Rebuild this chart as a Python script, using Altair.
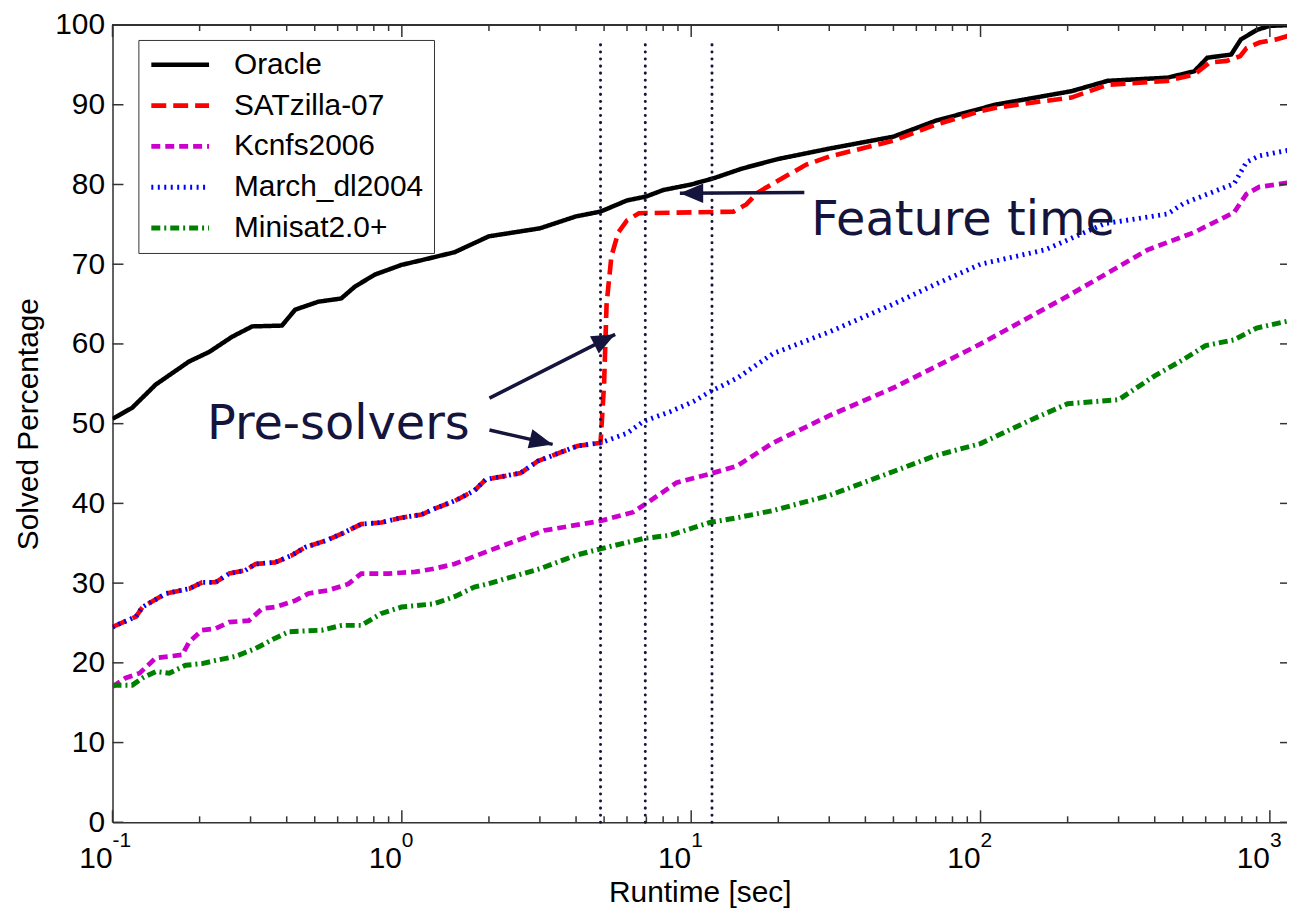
import altair as alt
import pandas as pd

FONT = "Liberation Sans"
ANN_FONT = "DejaVu Sans"
NAVY = "#14143c"
AXC = "#333333"

series_names = ["Oracle", "SATzilla-07", "Kcnfs2006", "March_dl2004", "Minisat2.0+"]
colors = ["#000000", "#ff0000", "#cc00cc", "#0000ff", "#008000"]
dashes = [[1, 0], [15, 7], [9, 5], [2, 4.5], [9, 4, 2, 4]]
widths = [4.5, 5, 1.6, 2.5, 1.6]

oracle_x = [0.1, 0.117, 0.141, 0.184, 0.216, 0.259, 0.304, 0.385, 0.428, 0.515, 0.617, 0.689, 0.807,
            0.995, 1.2, 1.52, 2.0, 3.0, 4.0, 4.86, 6.0, 7.0, 8.0, 10.0, 12.0, 15.0, 20.0, 30.0, 50.0,
            70.0, 100, 112, 206, 275, 443, 548, 608, 735, 794, 903, 1000, 1200]
oracle_y = [50.6, 52.0, 54.9, 57.8, 59.0, 60.9, 62.2, 62.3, 64.3, 65.3, 65.7, 67.2, 68.7,
            69.9, 70.6, 71.5, 73.5, 74.5, 76.0, 76.6, 78.0, 78.5, 79.3, 80.0, 80.8, 82.0, 83.2, 84.5, 86.0,
            88.0, 89.5, 90.0, 91.7, 93.0, 93.4, 94.2, 95.9, 96.3, 98.2, 99.4, 99.9, 100]

satzilla_x = [0.1, 0.1206, 0.127, 0.153, 0.184, 0.204, 0.227, 0.253, 0.288, 0.312, 0.365, 0.417, 0.464,
              0.543, 0.62, 0.724, 0.85, 0.997, 1.17, 1.29, 1.52, 1.78, 1.95, 2.57, 2.95, 4.04, 4.86, 5.0,
              5.1, 5.3, 5.6, 6.0, 6.6, 10, 14, 15.5, 17, 20, 25, 30, 50, 70, 100, 112, 146, 206, 275,
              443, 548, 620, 710, 790, 830, 920, 1050, 1200]
satzilla_y = [24.5, 25.8, 27.0, 28.7, 29.3, 30.1, 30.1, 31.2, 31.6, 32.4, 32.6, 33.5, 34.5,
              35.3, 36.2, 37.4, 37.6, 38.2, 38.6, 39.3, 40.3, 41.6, 43.0, 43.8, 45.3, 47.2, 47.6, 55,
              65, 71, 74, 75.5, 76.4, 76.5, 76.6, 77.5, 79, 80.5, 82.5, 83.5, 85.5, 87.5, 89.2, 89.6, 90.2, 90.9, 92.5,
              93.0, 93.8, 95.3, 95.5, 96.1, 97.1, 97.8, 98.2, 98.8]

kcnfs_x = [0.1, 0.111, 0.124, 0.141, 0.174, 0.184, 0.204, 0.227, 0.253, 0.296, 0.329, 0.365, 0.428, 0.476,
           0.557, 0.653, 0.724, 0.897, 1.11, 1.29, 1.52, 1.98, 3.1, 4.86, 6.3, 7.2, 8.9, 11.6, 14.4, 19.2,
           30, 50, 100, 200, 378, 548, 752, 830, 920, 1200]
kcnfs_y = [17.0, 18.1, 18.7, 20.6, 21.0, 22.6, 24.1, 24.3, 25.1, 25.3, 26.8, 27.0, 27.8, 28.7,
           29.1, 29.9, 31.2, 31.2, 31.4, 31.8, 32.4, 34.0, 36.6, 37.8, 38.9, 40.3, 42.6, 43.7, 44.7, 47.6,
           51, 54.5, 60, 66, 71.8, 74.0, 76.5, 78.8, 79.7, 80.3]

march_x = [0.1, 0.1206, 0.127, 0.153, 0.184, 0.204, 0.227, 0.253, 0.288, 0.312, 0.365, 0.417, 0.464,
           0.543, 0.62, 0.724, 0.85, 0.997, 1.17, 1.29, 1.52, 1.78, 1.95, 2.57, 2.95, 4.04, 4.86,
           6.0, 6.85, 8.45, 10.2, 11.6, 14.4, 19.2, 30, 50, 70, 100, 167, 269, 443, 502, 752, 830, 920, 1200]
march_y = [24.5, 25.8, 27.0, 28.7, 29.3, 30.1, 30.1, 31.2, 31.6, 32.4, 32.6, 33.5, 34.5,
           35.3, 36.2, 37.4, 37.6, 38.2, 38.6, 39.3, 40.3, 41.6, 43.0, 43.8, 45.3, 47.2, 47.6,
           48.8, 50.3, 51.5, 52.8, 54.0, 55.7, 58.8, 61.5, 65, 67.5, 70, 71.8, 75.1, 76.3, 77.6, 80.1, 82.8, 83.6, 84.4]

minisat_x = [0.1, 0.117, 0.127, 0.141, 0.157, 0.179, 0.204, 0.227, 0.266, 0.312, 0.365, 0.407, 0.529, 0.62,
             0.724, 0.85, 0.997, 1.29, 1.52, 1.78, 1.98, 3.0, 4.0, 4.86, 6.85, 8.45, 11.6, 14.4, 19.2, 30,
             50, 70, 100, 150, 200, 300, 400, 500, 600, 750, 900, 1200]
minisat_y = [17.2, 17.2, 18.1, 18.9, 18.7, 19.7, 19.9, 20.3, 20.8, 21.8, 23.1, 23.9, 24.1, 24.7,
             24.7, 26.2, 27.0, 27.4, 28.3, 29.5, 29.9, 31.8, 33.5, 34.3, 35.6, 36.0, 37.6, 38.2, 39.1, 41,
             44, 46, 47.5, 50.5, 52.5, 53, 56, 58, 59.8, 60.5, 62, 63]

# dotted marker lines (seconds)
marker_times = [4.86, 6.94, 11.8]
marker_bottom = [0, 0, 0]
marker_top = [98.1, 98.1, 98.1]

# annotations
ann_text = ["Pre-solvers", "Feature time"]
ann_x = [0.212, 26.0]
ann_y = [48.1, 73.7]

arrow_x_from = [2.008, 2.008, 24.6]
arrow_y_from = [53.2, 49.2, 79.0]
arrow_x_to = [5.46, 3.32, 9.14]
arrow_y_to = [61.2, 47.4, 78.9]
arrow_angle = [63, 104, 270]

# axis ticks
y_ticks = [0, 10, 20, 30, 40, 50, 60, 70, 80, 90, 100]
x_exponents = [-1, 0, 1, 2, 3]
x_minor = [m * 10.0 ** e for e in [-1, 0, 1, 2] for m in range(2, 10)]
x_max = 1146

W, H = 1180, 801

frames = []
for name, xs, ys in zip(series_names,
                        [oracle_x, satzilla_x, kcnfs_x, march_x, minisat_x],
                        [oracle_y, satzilla_y, kcnfs_y, march_y, minisat_y]):
    frames.append(pd.DataFrame({"series": name, "runtime": xs, "solved": ys, "idx": range(len(xs))}))
curves = pd.concat(frames, ignore_index=True)

xsc = alt.Scale(type="log", domain=[0.1, x_max], nice=False)
ysc = alt.Scale(domain=[0, 100], nice=False)

legend = alt.Legend(
    title=None, orient="none", legendX=26, legendY=15, direction="vertical",
    symbolType="M-2.9,0L2.9,0", symbolSize=400, symbolOffset=17, labelOffset=39,
    rowPadding=11, padding=10, labelFontSize=30, labelFont=FONT, labelColor="#000",
    strokeColor=AXC, fillColor="#ffffff", labelLimit=500,
)

TITLE_FS = 30
x_axis = alt.Axis(labels=False, ticks=False, grid=False, domain=True, domainColor=AXC, domainWidth=1.5,
                  title="Runtime [sec]", titleFont=FONT, titleFontSize=TITLE_FS, titleFontWeight="normal",
                  titleColor="#000", titleY=80, titleBaseline="alphabetic")
y_axis = alt.Axis(values=y_ticks, labelFontSize=30, labelFont=FONT, labelColor="#000", labelPadding=8,
                  labelFlush=False, labelOverlap=False, ticks=False, grid=False, domainColor=AXC,
                  domainWidth=1.5, title="Solved Percentage", titleFont=FONT, titleFontSize=TITLE_FS,
                  titleFontWeight="normal", titleColor="#000", titleX=-84, titleY=H / 2, titleAngle=-90,
                  titleBaseline="middle", titleAlign="center")


def X(field):
    return alt.X(field, type="quantitative", scale=xsc, axis=x_axis)


def Y(field):
    return alt.Y(field, type="quantitative", scale=ysc, axis=y_axis)


enc = dict(
    x=X("runtime"),
    y=Y("solved"),
    color=alt.Color("series:N", scale=alt.Scale(domain=series_names, range=colors), legend=legend),
    strokeDash=alt.StrokeDash("series:N", scale=alt.Scale(domain=series_names, range=dashes), legend=legend),
    strokeWidth=alt.StrokeWidth("series:N", scale=alt.Scale(domain=series_names, range=widths), legend=legend),
    order="idx:Q",
)

layers = []
for n in series_names:
    layers.append(alt.Chart(curves).transform_filter(alt.datum.series == n)
                  .mark_line(clip=True).encode(**enc))

# frame ticks (MATLAB style, inward)
xmaj = pd.DataFrame({"v": [10.0 ** e for e in x_exponents]})
xmin = pd.DataFrame({"v": x_minor})
ytk = pd.DataFrame({"v": y_ticks})
tick_style = dict(color=AXC, strokeWidth=1.5)
ticks = [
    alt.Chart(xmaj).mark_rule(**tick_style).encode(x=X("v"), y=alt.value(H), y2=alt.value(H - 12)),
    alt.Chart(xmaj).mark_rule(**tick_style).encode(x=X("v"), y=alt.value(0), y2=alt.value(12)),
    alt.Chart(xmin).mark_rule(**tick_style).encode(x=X("v"), y=alt.value(H), y2=alt.value(H - 6)),
    alt.Chart(xmin).mark_rule(**tick_style).encode(x=X("v"), y=alt.value(0), y2=alt.value(6)),
    alt.Chart(ytk).mark_rule(**tick_style).encode(y=Y("v"), x=alt.value(0), x2=alt.value(11)),
    alt.Chart(ytk).mark_rule(**tick_style).encode(y=Y("v"), x=alt.value(W - 7), x2=alt.value(W)),
    alt.Chart(ytk).mark_rule(**tick_style).encode(x=alt.value(0), x2=alt.value(W), y=alt.value(0)),
]

# x tick labels as 10 with superscript exponent
lab = pd.DataFrame({"v": [10.0 ** e for e in x_exponents], "exp": [str(e) for e in x_exponents]})
BASE_FS, EXP_FS = 30, 21
lab["expw"] = lab["exp"].apply(lambda s: EXP_FS * sum(0.333 if c == "-" else 0.556 for c in s))
lab["tot"] = 2 * 0.556 * BASE_FS + 1.5 + lab["expw"]
lab["dx10"] = -lab["tot"] / 2 + 2 * 0.556 * BASE_FS
lab["dxe"] = lab["dx10"] + 1.5
lab["ten"] = "10"
labels_ten = alt.Chart(lab).mark_text(font=FONT, fontSize=BASE_FS, align="right", baseline="alphabetic",
                                      color="#000").encode(
    x=X("v"), y=alt.value(H + 46), text="ten:N", xOffset=alt.XOffset("dx10:Q", scale=None))
labels_exp = alt.Chart(lab).mark_text(font=FONT, fontSize=EXP_FS, align="left", baseline="alphabetic",
                                      color="#000").encode(
    x=X("v"), y=alt.value(H + 25), text="exp:N", xOffset=alt.XOffset("dxe:Q", scale=None))

# dotted vertical lines
vl = pd.DataFrame({"t": marker_times, "b": marker_bottom, "tp": marker_top})
vlines = alt.Chart(vl).mark_rule(strokeDash=[0.1, 7], strokeCap="round", strokeWidth=3, color=NAVY).encode(
    x=X("t"), y=Y("b"), y2="tp:Q")

# annotations
adf = pd.DataFrame({"text": ann_text, "x": ann_x, "y": ann_y})
ann = alt.Chart(adf).mark_text(font=ANN_FONT, fontSize=48, color=NAVY, align="left", baseline="alphabetic").encode(
    x=X("x"), y=Y("y"), text="text:N")

ardf = pd.DataFrame({"x0": arrow_x_from, "y0": arrow_y_from, "x1": arrow_x_to, "y1": arrow_y_to, "a": arrow_angle})
arrow_lines = alt.Chart(ardf).mark_rule(strokeWidth=3.5, color=NAVY).encode(
    x=X("x0"), y=Y("y0"), x2="x1:Q", y2="y1:Q")
arrow_heads = alt.Chart(ardf).mark_point(shape="M0,0L1,2.4L-1,2.4Z", filled=True, size=380, color=NAVY,
                                         opacity=1, strokeWidth=0).encode(
    x=X("x1"), y=Y("y1"), angle=alt.Angle("a:Q", scale=None))

chart = alt.layer(*layers, vlines, *ticks, labels_ten, labels_exp, arrow_lines, arrow_heads, ann).properties(
    width=W, height=H,
    autosize=alt.AutoSizeParams(type="none"),
    padding={"left": 105, "top": 15, "right": 0, "bottom": 85},
).configure_view(stroke=None).configure(background="#ffffff")

chart.save("out.html", embed_options={"renderer": "svg", "actions": False})
